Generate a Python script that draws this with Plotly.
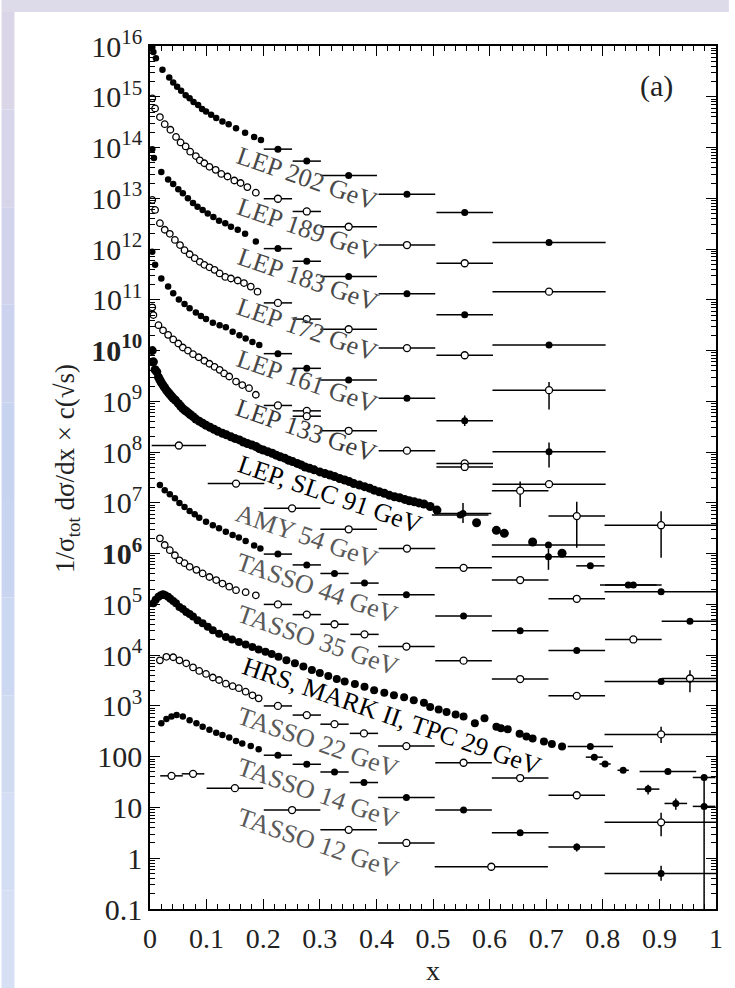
import plotly.graph_objects as go

# ---------------- data ----------------
lep202_x = [0.004, 0.006, 0.0105, 0.022, 0.034, 0.041, 0.048, 0.055, 0.063, 0.070, 0.077, 0.085, 0.092, 0.099, 0.108, 0.117, 0.128, 0.139, 0.152, 0.168, 0.184, 0.196]
lep202_y = [9.3e15, 7.6e15, 5.75e15, 3.39e15, 2.40e15, 1.91e15, 1.58e15, 1.32e15, 1.07e15, 9.3e14, 7.9e14, 6.9e14, 5.75e14, 5.1e14, 4.4e14, 3.8e14, 3.24e14, 2.88e14, 2.40e14, 1.95e14, 1.62e14, 1.41e14]
lep202_bx = [0.226, 0.277, 0.351, 0.454, 0.556, 0.705]
lep202_by = [9.3e13, 5.4e13, 2.82e13, 1.20e13, 5.25e12, 1.35e12]
lep202_bdx = [0.025, 0.025, 0.05, 0.05, 0.05, 0.1]

lep189_x = [0.004, 0.009, 0.0175, 0.026, 0.036, 0.046, 0.054, 0.063, 0.071, 0.081, 0.088, 0.096, 0.105, 0.116, 0.126, 0.137, 0.149, 0.160, 0.172, 0.187]
lep189_y = [9.3e14, 5.9e14, 3.98e14, 2.88e14, 2.24e14, 1.62e14, 1.26e14, 1.05e14, 8.3e13, 6.8e13, 5.6e13, 4.9e13, 4.17e13, 3.63e13, 3.02e13, 2.69e13, 2.24e13, 2.0e13, 1.66e13, 1.29e13]
lep189_bx = [0.226, 0.277, 0.351, 0.454, 0.556, 0.705]
lep189_by = [9.8e12, 5.5e12, 2.75e12, 1.20e12, 5.25e11, 1.45e11]
lep189_bdx = [0.025, 0.025, 0.05, 0.05, 0.05, 0.1]

lep183_x = [0.004, 0.007, 0.020, 0.032, 0.041, 0.050, 0.058, 0.067, 0.076, 0.084, 0.093, 0.102, 0.112, 0.122, 0.133, 0.143, 0.155, 0.168, 0.187]
lep183_y = [9.3e13, 6.2e13, 3.31e13, 2.34e13, 1.91e13, 1.51e13, 1.26e13, 1.0e13, 8.1e12, 6.8e12, 5.9e12, 5.0e12, 4.27e12, 3.63e12, 3.24e12, 2.75e12, 2.40e12, 2.0e12, 1.41e12]
lep183_bx = [0.226, 0.277, 0.351, 0.454, 0.556, 0.705]
lep183_by = [1.02e12, 5.75e11, 2.88e11, 1.32e11, 5.1e10, 1.29e10]
lep183_bdx = [0.025, 0.025, 0.05, 0.05, 0.05, 0.1]

lep172_x = [0.004, 0.009, 0.0175, 0.026, 0.035, 0.044, 0.053, 0.061, 0.070, 0.079, 0.088, 0.096, 0.105, 0.114, 0.123, 0.133, 0.143, 0.155, 0.166, 0.178, 0.190]
lep172_y = [9.3e12, 5.9e12, 3.24e12, 2.40e12, 2.0e12, 1.51e12, 1.20e12, 9.5e11, 7.9e11, 6.6e11, 5.6e11, 4.9e11, 4.37e11, 3.89e11, 3.31e11, 2.82e11, 2.63e11, 2.40e11, 2.14e11, 1.82e11, 1.45e11]
lep172_bx = [0.226, 0.277, 0.351, 0.454, 0.556, 0.705]
lep172_by = [8.7e10, 4.17e10, 2.63e10, 1.12e10, 8.1e9, 1.66e9]
lep172_bdx = [0.025, 0.025, 0.05, 0.05, 0.05, 0.1]
lep172_eyp = [0, 0, 0, 0, 0, 7.4e8]
lep172_eym = [0, 0, 0, 0, 0, 9.7e8]

lep161_x = [0.004, 0.009, 0.020, 0.032, 0.041, 0.051, 0.061, 0.070, 0.081, 0.090, 0.099, 0.111, 0.123, 0.134, 0.146, 0.158, 0.169, 0.181, 0.193]
lep161_y = [8.9e11, 4.9e11, 2.63e11, 1.82e11, 1.35e11, 1.02e11, 8.3e10, 6.8e10, 5.6e10, 4.79e10, 4.17e10, 3.55e10, 3.16e10, 2.88e10, 2.34e10, 2.0e10, 1.74e10, 1.48e10, 1.29e10]
lep161_bx = [0.226, 0.277, 0.351, 0.454, 0.556, 0.705]
lep161_by = [8.7e9, 4.47e9, 2.63e9, 1.15e9, 4.17e8, 1.02e8]
lep161_bdx = [0.025, 0.025, 0.05, 0.05, 0.05, 0.1]
lep161_eyp = [0, 0, 0, 0, 1.1e8, 5.3e7]
lep161_eym = [0, 0, 0, 0, 0.9e8, 5.2e7]

lep133_x = [0.004, 0.006, 0.015, 0.023, 0.032, 0.041, 0.050, 0.058, 0.067, 0.076, 0.086, 0.096, 0.105, 0.114, 0.123, 0.131, 0.140, 0.152, 0.163, 0.175, 0.187]
lep133_y = [7.1e10, 5.0e10, 3.16e10, 2.51e10, 2.04e10, 1.66e10, 1.38e10, 1.15e10, 1.0e10, 8.5e9, 7.4e9, 6.3e9, 5.5e9, 4.79e9, 4.17e9, 3.55e9, 3.09e9, 2.45e9, 2.09e9, 1.82e9, 1.35e9]
lep133_bx = [0.226, 0.277, 0.277, 0.351, 0.454, 0.556, 0.556, 0.705, 0.654, 0.754, 0.903]
lep133_by = [8.3e8, 6.5e8, 5.1e8, 2.63e8, 1.07e8, 6.0e7, 5.1e7, 2.34e7, 1.74e7, 5.5e6, 3.63e6]
lep133_bdx = [0.025, 0.025, 0.025, 0.05, 0.05, 0.05, 0.05, 0.1, 0.05, 0.05, 0.1]
lep133_eyp = [0, 0, 0, 0, 0, 0, 0, 0, 8.9e6, 5.0e6, 3.2e6]
lep133_eym = [0, 0, 0, 0, 0, 0, 0, 0, 9.1e6, 4.2e6, 2.8e6]

lep91_x = [0.004, 0.006, 0.012, 0.0175, 0.023, 0.029, 0.035, 0.041, 0.05, 0.058, 0.067, 0.076, 0.087, 0.099, 0.113, 0.128, 0.143, 0.158, 0.172, 0.187, 0.2, 0.216, 0.23, 0.245, 0.26, 0.274, 0.29, 0.309, 0.326, 0.344, 0.36, 0.379, 0.396, 0.414, 0.432, 0.45, 0.467, 0.484, 0.507, 0.577, 0.612, 0.626, 0.676, 0.728]
lep91_y = [1.0e10, 6.0e9, 3.8e9, 2.63e9, 2.09e9, 1.66e9, 1.38e9, 1.15e9, 9.1e8, 7.2e8, 6.0e8, 5.0e8, 4.07e8, 3.39e8, 2.82e8, 2.34e8, 2.0e8, 1.74e8, 1.48e8, 1.29e8, 1.10e8, 9.5e7, 8.1e7, 6.9e7, 6.0e7, 5.1e7, 4.47e7, 3.8e7, 3.31e7, 2.82e7, 2.40e7, 2.09e7, 1.78e7, 1.55e7, 1.32e7, 1.17e7, 1.05e7, 9.5e6, 7.2e6, 4.07e6, 2.88e6, 2.51e6, 1.70e6, 1.02e6]
# second set of 91 GeV points (other experiments in the same band)
lep91b_x = [0.009, 0.015, 0.020, 0.026, 0.032, 0.038, 0.045, 0.054, 0.062, 0.071, 0.081, 0.093, 0.106, 0.120, 0.135, 0.150, 0.165, 0.180, 0.193, 0.208, 0.223, 0.238, 0.252, 0.267, 0.282, 0.300, 0.318, 0.335, 0.352, 0.370, 0.388, 0.405, 0.423, 0.441, 0.458, 0.475, 0.495]
lep91b_y = [4.2e9, 3.0e9, 2.34e9, 1.86e9, 1.51e9, 1.26e9, 1.05e9, 8.1e8, 6.6e8, 5.5e8, 4.47e8, 3.72e8, 3.09e8, 2.57e8, 2.19e8, 1.86e8, 1.58e8, 1.38e8, 1.17e8, 1.02e8, 8.7e7, 7.6e7, 6.5e7, 5.6e7, 4.79e7, 4.07e7, 3.55e7, 3.02e7, 2.63e7, 2.24e7, 1.95e7, 1.66e7, 1.41e7, 1.26e7, 1.10e7, 1.0e7, 8.5e6]
lep91_bx = [0.548, 0.553, 0.704, 0.704, 0.778, 0.845, 0.854, 0.903, 0.954]
lep91_by = [5.75e6, 6.2e6, 1.48e6, 8.7e5, 5.75e5, 2.40e5, 2.40e5, 1.78e5, 4.68e4]
lep91_bdx = [0.05, 0.05, 0.1, 0.1, 0.025, 0.05, 0.05, 0.1, 0.05]
lep91_eyp = [0, 3.8e6, 0, 3.9e5, 0, 0, 0, 0, 0]
lep91_eym = [0, 2.2e6, 0, 3.9e5, 0, 0, 0, 0, 0]

amy54_bx = [0.051, 0.152, 0.251, 0.351, 0.454, 0.554, 0.654, 0.754, 0.854, 0.954]
amy54_by = [1.35e8, 2.40e7, 7.8e6, 3.02e6, 1.26e6, 5.25e5, 3.02e5, 1.29e5, 2.04e4, 3.47e3]
amy54_bdx = [0.048, 0.05, 0.05, 0.05, 0.05, 0.05, 0.05, 0.05, 0.05, 0.05]
amy54_eyp = [0, 0, 0, 0, 0, 0, 0, 0, 0, 1.6e3]
amy54_eym = [0, 0, 0, 0, 0, 0, 0, 0, 0, 1.6e3]

tasso44_x = [0.0175, 0.026, 0.035, 0.044, 0.052, 0.061, 0.070, 0.079, 0.087, 0.099, 0.111, 0.122, 0.134, 0.146, 0.157, 0.169, 0.184, 0.195]
tasso44_y = [2.24e7, 1.78e7, 1.48e7, 1.23e7, 1.0e7, 8.3e6, 6.9e6, 6.0e6, 5.1e6, 4.27e6, 3.63e6, 3.16e6, 2.69e6, 2.34e6, 2.09e6, 1.78e6, 1.45e6, 1.26e6]
tasso44_bx = [0.226, 0.277, 0.326, 0.379, 0.453, 0.554, 0.654, 0.754, 0.903]
tasso44_by = [9.8e5, 6.0e5, 4.07e5, 2.63e5, 1.55e5, 5.9e4, 3.02e4, 1.23e4, 3.02e3]
tasso44_bdx = [0.025, 0.025, 0.025, 0.025, 0.05, 0.05, 0.05, 0.05, 0.1]

tasso35_x = [0.0175, 0.026, 0.035, 0.044, 0.052, 0.061, 0.070, 0.082, 0.093, 0.105, 0.117, 0.128, 0.140, 0.152, 0.169, 0.187]
tasso35_y = [2.0e6, 1.48e6, 1.17e6, 9.3e5, 7.4e5, 6.5e5, 5.5e5, 4.79e5, 4.07e5, 3.47e5, 3.02e5, 2.57e5, 2.24e5, 1.91e5, 1.74e5, 1.51e5]
tasso35_bx = [0.226, 0.277, 0.326, 0.379, 0.453, 0.554, 0.654, 0.754, 0.903]
tasso35_by = [1.0e5, 6.3e4, 4.07e4, 2.57e4, 1.48e4, 7.8e3, 3.39e3, 1.58e3, 275]
tasso35_bdx = [0.025, 0.025, 0.025, 0.025, 0.05, 0.05, 0.05, 0.05, 0.1]
tasso35_eyp = [0, 0, 0, 0, 0, 0, 0, 0, 114]
tasso35_eym = [0, 0, 0, 0, 0, 0, 0, 0, 89]

hrs29_x = [0.006, 0.015, 0.023, 0.032, 0.041, 0.052, 0.064, 0.076, 0.093, 0.111, 0.134, 0.157, 0.181, 0.204, 0.227, 0.256, 0.286, 0.315, 0.344, 0.379, 0.414, 0.449, 0.484, 0.495, 0.524, 0.554, 0.574, 0.591, 0.612, 0.632, 0.653, 0.676, 0.696, 0.728]
hrs29_y = [1.05e5, 1.41e5, 1.58e5, 1.41e5, 1.17e5, 8.9e4, 7.1e4, 5.75e4, 4.27e4, 3.09e4, 2.29e4, 1.82e4, 1.45e4, 1.17e4, 9.3e3, 6.9e3, 5.1e3, 3.89e3, 3.02e3, 2.40e3, 1.82e3, 1.48e3, 1.15e3, 955, 759, 617, 457, 575, 389, 347, 282, 229, 200, 158]
# second set of 29 GeV points (other experiments in the same band)
hrs29b_x = [0.010, 0.019, 0.027, 0.036, 0.046, 0.058, 0.070, 0.084, 0.102, 0.122, 0.145, 0.169, 0.192, 0.215, 0.241, 0.271, 0.300, 0.330, 0.362, 0.396, 0.431, 0.466, 0.510, 0.540, 0.620, 0.665, 0.710]
hrs29b_y = [1.23e5, 1.51e5, 1.51e5, 1.29e5, 1.05e5, 8.1e4, 6.5e4, 4.9e4, 3.63e4, 2.63e4, 2.04e4, 1.62e4, 1.29e4, 1.05e4, 7.9e3, 6.0e3, 4.47e3, 3.39e3, 2.69e3, 2.04e3, 1.62e3, 1.29e3, 851, 676, 363, 251, 178]
hrs29_bx = [0.778, 0.785, 0.804, 0.836, 0.915, 0.88, 0.929, 0.979, 0.979]
hrs29_by = [158, 98, 72, 54, 51, 23, 12, 39, 10.5]
hrs29_bdx = [0.04, 0.015, 0.01, 0.01, 0.05, 0.02, 0.02, 0.02, 0.02]
hrs29_eyp = [0, 0, 0, 0, 0, 5, 3, 0, 0]
hrs29_eym = [0, 0, 0, 0, 0, 5, 3, 38.95, 0]

tasso22_x = [0.0175, 0.029, 0.041, 0.052, 0.064, 0.076, 0.087, 0.099, 0.111, 0.122, 0.134, 0.146, 0.157, 0.169, 0.181, 0.192]
tasso22_y = [7.9e3, 9.3e3, 9.1e3, 7.9e3, 6.9e3, 5.75e3, 4.9e3, 4.27e3, 3.63e3, 3.24e3, 2.75e3, 2.45e3, 2.24e3, 1.91e3, 1.62e3, 1.41e3]
tasso22_bx = [0.226, 0.277, 0.326, 0.378, 0.453, 0.554, 0.654, 0.754, 0.903]
tasso22_by = [1.0e3, 661, 437, 288, 162, 76, 38, 17.4, 5.1]
tasso22_bdx = [0.025, 0.025, 0.025, 0.025, 0.05, 0.05, 0.05, 0.05, 0.1]
tasso22_eyp = [0, 0, 0, 0, 0, 0, 0, 0, 2.8]
tasso22_eym = [0, 0, 0, 0, 0, 0, 0, 0, 2.4]

tasso14_x = [0.020, 0.029, 0.038, 0.047, 0.058, 0.070, 0.082, 0.093, 0.105, 0.117, 0.128, 0.140, 0.152, 0.163, 0.178, 0.192]
tasso14_y = [457, 550, 617, 661, 617, 525, 457, 389, 339, 295, 269, 240, 204, 182, 162, 141]
tasso14_bx = [0.226, 0.277, 0.326, 0.378, 0.453, 0.554, 0.654, 0.754, 0.903]
tasso14_by = [107, 71, 50, 31, 15.8, 8.9, 3.16, 1.66, 0.50]
tasso14_bdx = [0.025, 0.025, 0.025, 0.025, 0.05, 0.05, 0.05, 0.05, 0.1]
tasso14_eyp = [0, 0, 0, 0, 0, 0, 0, 0.3, 0.21]
tasso14_eym = [0, 0, 0, 0, 0, 0, 0, 0.3, 0.14]

tasso12_bx = [0.038, 0.076, 0.150, 0.251, 0.351, 0.453, 0.603]
tasso12_by = [42, 46, 24, 8.9, 3.63, 2.0, 0.68]
tasso12_bdx = [0.02, 0.02, 0.05, 0.05, 0.05, 0.05, 0.1]

labels = ["LEP 202 GeV", "LEP 189 GeV", "LEP 183 GeV", "LEP 172 GeV", "LEP 161 GeV",
          "LEP 133 GeV", "LEP, SLC 91 GeV", "AMY 54 GeV", "TASSO 44 GeV", "TASSO 35 GeV",
          "HRS, MARK II, TPC 29 GeV", "TASSO 22 GeV", "TASSO 14 GeV", "TASSO 12 GeV"]
label_px = [(309, 178), (309, 230), (310, 279), (309, 329), (309, 381), (308, 430), (332, 494),
            (309, 536), (319, 588), (320, 640), (395, 716), (320, 742), (320, 793), (320, 843)]
label_col = ["#4a4a4a", "#4a4a4a", "#4a4a4a", "#4a4a4a", "#4a4a4a", "#3a3a3a", "#000000",
             "#5a5a5a", "#5a5a5a", "#5a5a5a", "#000000", "#5a5a5a", "#5a5a5a", "#5a5a5a"]

ytick_vals = [0.1, 1, 10, 100, 1e3, 1e4, 1e5, 1e6, 1e7, 1e8, 1e9, 1e10, 1e11, 1e12, 1e13, 1e14, 1e15, 1e16]
ytick_text = ["0.1", "1", "10", "100", "10<sup>3</sup>", "10<sup>4</sup>", "10<sup>5</sup>",
              "<b>10<sup>6</sup></b>", "10<sup>7</sup>", "10<sup>8</sup>", "10<sup>9</sup>",
              "<b>10<sup>10</sup></b>", "10<sup>11</sup>", "10<sup>12</sup>", "10<sup>13</sup>",
              "10<sup>14</sup>", "10<sup>15</sup>", "10<sup>16</sup>"]
xtick_vals = [0, 0.1, 0.2, 0.3, 0.4, 0.5, 0.6, 0.7, 0.8, 0.9, 1.0]
xtick_text = ["0", "0.1", "0.2", "0.3", "0.4", "0.5", "0.6", "0.7", "0.8", "0.9", "1"]

# ---------------- figure ----------------
W, H = 735, 988
ML, MR, MT, MB = 150, 13, 46, 79
PW, PH = W - ML - MR, H - MT - MB
SERIF = "Liberation Serif, Times New Roman, serif"

fig = go.Figure()


def marker(filled, size):
    if filled:
        return dict(symbol="circle", size=size, color="black", line=dict(width=0))
    return dict(symbol="circle", size=size, color="white", line=dict(width=1.3, color="black"))


def add_dense(x, y, filled, size=6.5):
    fig.add_trace(go.Scatter(x=x, y=y, mode="markers", marker=marker(filled, size),
                             showlegend=False, hoverinfo="skip"))


def add_bins(x, y, dx, filled, eyp=None, eym=None, size=7):
    ey = None
    if eyp is not None:
        ey = dict(type="data", symmetric=False, array=eyp, arrayminus=eym,
                  color="black", thickness=1.5, width=0)
    fig.add_trace(go.Scatter(x=x, y=y, mode="markers", marker=marker(filled, size),
                             error_x=dict(type="data", array=dx, color="black", thickness=1.5, width=0),
                             error_y=ey, showlegend=False, hoverinfo="skip"))


add_dense(lep202_x, lep202_y, True)
add_bins(lep202_bx, lep202_by, lep202_bdx, True)
add_dense(lep189_x, lep189_y, False)
add_bins(lep189_bx, lep189_by, lep189_bdx, False)
add_dense(lep183_x, lep183_y, True)
add_bins(lep183_bx, lep183_by, lep183_bdx, True)
add_dense(lep172_x, lep172_y, False)
add_bins(lep172_bx, lep172_by, lep172_bdx, False, lep172_eyp, lep172_eym)
add_dense(lep161_x, lep161_y, True)
add_bins(lep161_bx, lep161_by, lep161_bdx, True, lep161_eyp, lep161_eym)
add_dense(lep133_x, lep133_y, False)
add_bins(lep133_bx, lep133_by, lep133_bdx, False, lep133_eyp, lep133_eym)
add_dense(lep91_x, lep91_y, True, size=9)
add_dense(lep91b_x, lep91b_y, True, size=9)
add_bins(lep91_bx, lep91_by, lep91_bdx, True, lep91_eyp, lep91_eym)
add_bins(amy54_bx, amy54_by, amy54_bdx, False, amy54_eyp, amy54_eym)
add_dense(tasso44_x, tasso44_y, True)
add_bins(tasso44_bx, tasso44_by, tasso44_bdx, True)
add_dense(tasso35_x, tasso35_y, False)
add_bins(tasso35_bx, tasso35_by, tasso35_bdx, False, tasso35_eyp, tasso35_eym)
add_dense(hrs29_x, hrs29_y, True, size=8)
add_dense(hrs29b_x, hrs29b_y, True, size=8)
add_bins(hrs29_bx, hrs29_by, hrs29_bdx, True, hrs29_eyp, hrs29_eym)
add_dense(tasso22_x, tasso22_y, False)
add_bins(tasso22_bx, tasso22_by, tasso22_bdx, False, tasso22_eyp, tasso22_eym)
add_dense(tasso14_x, tasso14_y, True)
add_bins(tasso14_bx, tasso14_by, tasso14_bdx, True, tasso14_eyp, tasso14_eym)
add_bins(tasso12_bx, tasso12_by, tasso12_bdx, False)


def px2paper(px, py):
    return (px - ML) / PW, (H - MB - py) / PH


annotations = []
for txt, (px, py), col in zip(labels, label_px, label_col):
    ax, ay = px2paper(px, py)
    annotations.append(dict(text=txt, x=ax, y=ay, xref="paper", yref="paper", showarrow=False,
                            textangle=19, xanchor="center", yanchor="middle",
                            font=dict(family=SERIF, size=26, color=col)))

ax, ay = px2paper(662, 86)
annotations.append(dict(text="(a)", x=ax, y=ay, xref="paper", yref="paper", showarrow=False,
                        xanchor="center", yanchor="middle",
                        font=dict(family=SERIF, size=30, color="#222")))
ax, ay = px2paper(66, 468)
annotations.append(dict(text="1/σ<sub>tot</sub> dσ/dx × c(√s)", x=ax, y=ay, xref="paper", yref="paper",
                        showarrow=False, textangle=-90, xanchor="center", yanchor="middle",
                        font=dict(family=SERIF, size=27, color="#222")))
ax, ay = px2paper(436, 970)
annotations.append(dict(text="x", x=ax, y=ay, xref="paper", yref="paper", showarrow=False,
                        xanchor="center", yanchor="middle",
                        font=dict(family=SERIF, size=28, color="#222")))

# light bluish frame strips on the top and left edges of the page
shapes = []
x_left0, _ = px2paper(0, 0)
x_left1, _ = px2paper(13, 0)
x_right, _ = px2paper(W, 0)
_, y_top = px2paper(0, 0)
_, y_top1 = px2paper(0, 12)
shapes.append(dict(type="rect", xref="paper", yref="paper", x0=x_left0, x1=x_right, y0=y_top1, y1=y_top,
                   fillcolor="#dddae9", line=dict(width=0), layer="below"))
strip_cols = ["#dad6e7", "#d6d5e9", "#d1d4ec", "#cbd3ee", "#c8d3ef", "#c9d5f0", "#ccd8f1", "#d0dbf2", "#d3ddf3", "#d6dff4"]
n = len(strip_cols)
for i, c in enumerate(strip_cols):
    _, ya = px2paper(0, 12 + i * (H - 12) / n)
    _, yb = px2paper(0, 12 + (i + 1) * (H - 12) / n)
    shapes.append(dict(type="rect", xref="paper", yref="paper", x0=x_left0, x1=x_left1, y0=yb, y1=ya,
                       fillcolor=c, line=dict(width=0), layer="below"))

fig.update_layout(
    width=W, height=H,
    margin=dict(l=ML, r=MR, t=MT, b=MB, pad=0),
    paper_bgcolor="white", plot_bgcolor="white",
    annotations=annotations, shapes=shapes,
    xaxis=dict(range=[0, 1], tickvals=xtick_vals, ticktext=xtick_text, ticks="inside", ticklen=10,
               tickwidth=1.3, tickcolor="black", showline=True, linewidth=1.6, linecolor="black",
               mirror="allticks", showgrid=False, zeroline=False, ticklabelstandoff=4,
               tickfont=dict(family=SERIF, size=28, color="#222"),
               minor=dict(ticks="inside", ticklen=5, tickwidth=1, tickcolor="black", dtick=0.02, tick0=0,
                          showgrid=False)),
    yaxis=dict(type="log", range=[-1, 16], tickvals=ytick_vals, ticktext=ytick_text, ticks="inside",
               ticklen=10, tickwidth=1.3, tickcolor="black", showline=True, linewidth=1.6,
               linecolor="black", mirror="allticks", showgrid=False, zeroline=False,
               tickfont=dict(family=SERIF, size=30, color="#222"),
               minor=dict(ticks="inside", ticklen=5, tickwidth=1, tickcolor="black", dtick="D1",
                          showgrid=False)),
)

fig.write_html("out.html", config={"displayModeBar": False},
               post_script="document.body.style.margin='0px';document.body.style.padding='0px';"
                           "document.body.style.overflow='hidden';")
